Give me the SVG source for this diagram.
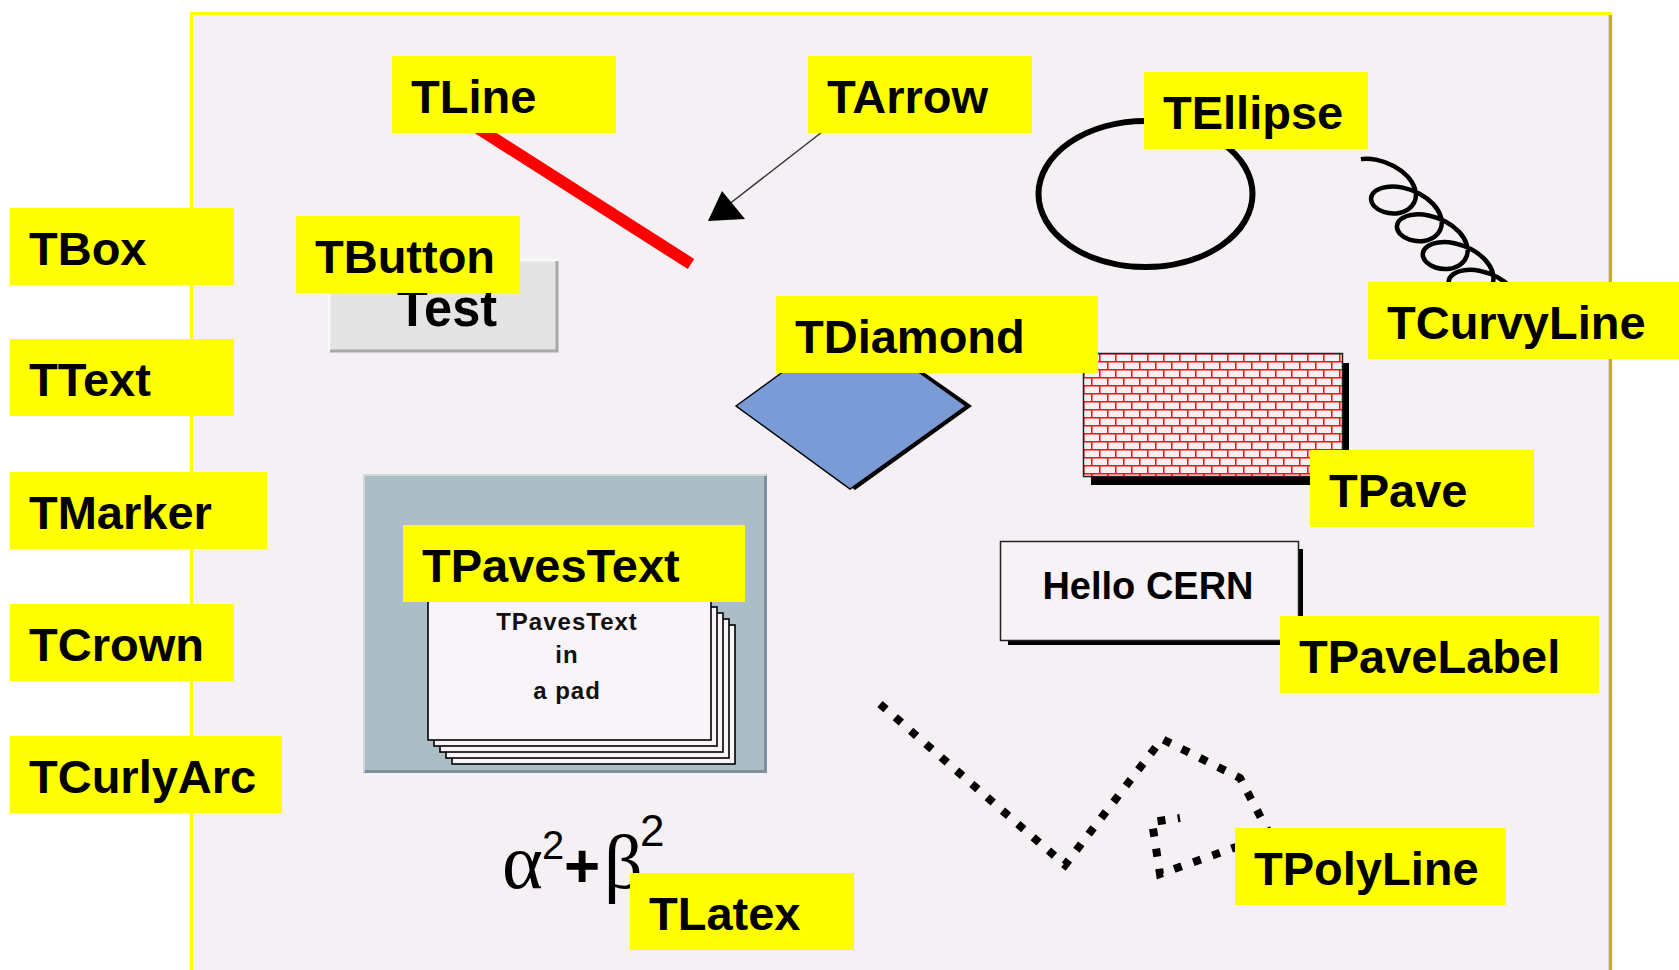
<svg xmlns="http://www.w3.org/2000/svg" width="1679" height="970" viewBox="0 0 1679 970">
<style>
.lbl{fill:#ffff00}
.lt{font-family:"Liberation Sans",Arial,sans-serif;font-weight:bold;font-size:47px;fill:#000}
.in{font-family:"Liberation Sans",Arial,sans-serif;font-weight:bold;font-size:24px;fill:#111;letter-spacing:1px;text-anchor:middle}
</style>
<defs>
<pattern id="brick" patternUnits="userSpaceOnUse" x="1083" y="353" width="16" height="16">
<rect width="16" height="16" fill="#f6eff4"/>
<path d="M0 0.75H16M0 8.75H16M0.75 0V8M8.75 8V16" stroke="#ff1010" stroke-width="1.6" fill="none"/>
</pattern>
</defs>
<rect width="1679" height="970" fill="#ffffff"/>
<g id="frame">
<rect x="190" y="12" width="1422" height="960" fill="#f4f0f4"/>
<line x1="190" y1="13.5" x2="1612" y2="13.5" stroke="#ffff00" stroke-width="3"/>
<line x1="191.5" y1="12" x2="191.5" y2="970" stroke="#ffff00" stroke-width="3"/>
<line x1="1610.5" y1="15" x2="1610.5" y2="970" stroke="#c4b400" stroke-width="3"/>
<line x1="1608.5" y1="15" x2="1608.5" y2="970" stroke="#dcd8cc" stroke-width="1"/>
</g>
<g id="tline-shape">
<line x1="470" y1="123" x2="691" y2="264" stroke="#ff0000" stroke-width="12"/>
</g>
<g id="connectors">
<line x1="822" y1="132" x2="728" y2="205" stroke="#333" stroke-width="1.5"/>
<polygon points="708,221 722,191 745,219" fill="#000"/>
</g>
<g id="tellipse-shape">
<ellipse cx="1145.5" cy="194" rx="107" ry="73" fill="none" stroke="#000" stroke-width="6"/>
</g>
<g id="tcurvyline-shape">
<path transform="matrix(0.68 0.73 -0.92 0.32 1397.3 198.2)" vector-effect="non-scaling-stroke" fill="none" stroke="#000" stroke-width="4.5" d="M-53.51 0 c1.06 -4.36 3.28 -8.72 6.52 -12.5 c3.24 -3.78 7.49 -6.97 12.32 -9.15 c4.83 -2.18 10.25 -3.35 15.67 -3.35 c5.42 0 10.84 1.17 15.67 3.35 c4.83 2.18 9.08 5.37 12.32 9.15 c3.24 3.78 5.46 8.14 6.52 12.5 c1.06 4.36 0.95 8.72 -0.18 12.5 c-1.13 3.78 -3.26 6.97 -5.98 9.15 c-2.72 2.18 -6.02 3.35 -9.33 3.35 c-3.31 0 -6.61 -1.17 -9.33 -3.35 c-2.72 -2.18 -4.85 -5.37 -5.98 -9.15 c-1.13 -3.78 -1.24 -8.14 -0.18 -12.5 c1.06 -4.36 3.28 -8.72 6.52 -12.5 c3.24 -3.78 7.49 -6.97 12.32 -9.15 c4.83 -2.18 10.25 -3.35 15.67 -3.35 c5.42 0 10.84 1.17 15.67 3.35 c4.83 2.18 9.08 5.37 12.32 9.15 c3.24 3.78 5.46 8.14 6.52 12.5 c1.06 4.36 0.95 8.72 -0.18 12.5 c-1.13 3.78 -3.26 6.97 -5.98 9.15 c-2.72 2.18 -6.02 3.35 -9.33 3.35 c-3.31 0 -6.61 -1.17 -9.33 -3.35 c-2.72 -2.18 -4.85 -5.37 -5.98 -9.15 c-1.13 -3.78 -1.24 -8.14 -0.18 -12.5 c1.06 -4.36 3.28 -8.72 6.52 -12.5 c3.24 -3.78 7.49 -6.97 12.32 -9.15 c4.83 -2.18 10.25 -3.35 15.67 -3.35 c5.42 0 10.84 1.17 15.67 3.35 c4.83 2.18 9.08 5.37 12.32 9.15 c3.24 3.78 5.46 8.14 6.52 12.5 c1.06 4.36 0.95 8.72 -0.18 12.5 c-1.13 3.78 -3.26 6.97 -5.98 9.15 c-2.72 2.18 -6.02 3.35 -9.33 3.35 c-3.31 0 -6.61 -1.17 -9.33 -3.35 c-2.72 -2.18 -4.85 -5.37 -5.98 -9.15 c-1.13 -3.78 -1.24 -8.14 -0.18 -12.5 c1.06 -4.36 3.28 -8.72 6.52 -12.5 c3.24 -3.78 7.49 -6.97 12.32 -9.15 c4.83 -2.18 10.25 -3.35 15.67 -3.35 c5.42 0 10.84 1.17 15.67 3.35 c4.83 2.18 9.08 5.37 12.32 9.15 c3.24 3.78 5.46 8.14 6.52 12.5 c1.06 4.36 0.95 8.72 -0.18 12.5 c-1.13 3.78 -3.26 6.97 -5.98 9.15 c-2.72 2.18 -6.02 3.35 -9.33 3.35 c-3.31 0 -6.61 -1.17 -9.33 -3.35 c-2.72 -2.18 -4.85 -5.37 -5.98 -9.15 c-1.13 -3.78 -1.24 -8.14 -0.18 -12.5 c1.06 -4.36 3.28 -8.72 6.52 -12.5 c3.24 -3.78 7.49 -6.97 12.32 -9.15 c4.83 -2.18 10.25 -3.35 15.67 -3.35"/>
</g>
<g id="tbutton-shape">
<rect x="329" y="260" width="229" height="92" fill="#e4e4e4"/>
<path d="M329 352V260H558" fill="none" stroke="#f8f8f8" stroke-width="3"/>
<path d="M330 351H557V261" fill="none" stroke="#a8a8a8" stroke-width="3"/>
<text x="397" y="326" font-family="Liberation Sans, Arial, sans-serif" font-weight="bold" font-size="53" textLength="100" lengthAdjust="spacingAndGlyphs" fill="#000">Test</text>
</g>
<g id="tdiamond-shape">
<polygon points="741,406 855,324 972,406 855,490" fill="#000"/>
<polygon points="736,406 850,323 966,406 850,489" fill="#7b9bd6" stroke="#000" stroke-width="1.5"/>
</g>
<g id="tpave-shape">
<rect x="1091" y="363" width="258" height="122" fill="#000"/>
<rect x="1083.5" y="353.5" width="259" height="123" fill="url(#brick)" stroke="#222" stroke-width="1.5"/>
</g>
<g id="tpavestext-shape">
<rect x="363" y="474" width="404" height="299" fill="#abbdc5"/>
<path d="M364 772V475H766" fill="none" stroke="#d0d8dc" stroke-width="2"/>
<path d="M365 771.5H765.5V476" fill="none" stroke="#7c90a0" stroke-width="3"/>
<g fill="#f8f4f8" stroke="#000" stroke-width="1.6">
<rect x="452" y="625" width="283" height="139"/>
<rect x="446" y="619" width="283" height="139"/>
<rect x="440" y="613" width="283" height="139"/>
<rect x="434" y="607" width="283" height="139"/>
<rect x="428" y="601" width="283" height="139"/>
</g>
<text class="in" x="567" y="630">TPavesText</text>
<text class="in" x="567" y="663">in</text>
<text class="in" x="567" y="699">a pad</text>
</g>
<g id="tpavelabel-shape">
<rect x="1008" y="549" width="295" height="96" fill="#000"/>
<rect x="1000.5" y="541.5" width="298" height="99" fill="#f6f2f6" stroke="#222" stroke-width="1.5"/>
<text x="1148" y="599" text-anchor="middle" font-family="Liberation Sans, Arial, sans-serif" font-weight="bold" font-size="38" fill="#000">Hello CERN</text>
</g>
<g id="tpolyline-shape">
<polyline points="880,704 1065,865 1162,739 1240,778 1270,835 1160,874 1152,822 1180,818" fill="none" stroke="#000" stroke-width="8" stroke-dasharray="8 12.3"/>
</g>
<g id="tlatex-shape" fill="#000">
<text x="502" y="888" font-family="Liberation Serif, serif" font-size="78">α</text>
<text x="542" y="859" font-family="Liberation Sans, Arial, sans-serif" font-size="40">2</text>
<text x="564" y="887" font-family="Liberation Sans, Arial, sans-serif" font-weight="bold" font-size="62">+</text>
<text x="604" y="888" font-family="Liberation Serif, serif" font-size="76">β</text>
<text x="640" y="846" font-family="Liberation Sans, Arial, sans-serif" font-size="44">2</text>
</g>
<g id="label-tline"><rect class="lbl" x="392" y="56" width="224" height="77"/><text class="lt" x="411" y="113">TLine</text></g>
<g id="label-tarrow"><rect class="lbl" x="808" y="56" width="224" height="77"/><text class="lt" x="827" y="113">TArrow</text></g>
<g id="label-tellipse"><rect class="lbl" x="1144" y="72" width="224" height="77"/><text class="lt" x="1163" y="129">TEllipse</text></g>
<g id="label-tbox"><rect class="lbl" x="10" y="208" width="224" height="77"/><text class="lt" x="29" y="265">TBox</text></g>
<g id="label-tbutton"><rect class="lbl" x="296" y="216" width="224" height="77"/><text class="lt" x="315" y="273">TButton</text></g>
<g id="label-ttext"><rect class="lbl" x="10" y="339" width="224" height="77"/><text class="lt" x="29" y="396">TText</text></g>
<g id="label-tdiamond"><rect class="lbl" x="776" y="296" width="322" height="77"/><text class="lt" x="795" y="353">TDiamond</text></g>
<g id="label-tcurvyline"><rect class="lbl" x="1368" y="282" width="311" height="77"/><text class="lt" x="1387" y="339">TCurvyLine</text></g>
<g id="label-tmarker"><rect class="lbl" x="10" y="472" width="257" height="77"/><text class="lt" x="29" y="529">TMarker</text></g>
<g id="label-tpave"><rect class="lbl" x="1310" y="450" width="224" height="77"/><text class="lt" x="1329" y="507">TPave</text></g>
<g id="label-tpavestext"><rect class="lbl" x="403" y="525" width="342" height="77"/><text class="lt" x="422" y="582">TPavesText</text></g>
<g id="label-tcrown"><rect class="lbl" x="10" y="604" width="224" height="77"/><text class="lt" x="29" y="661">TCrown</text></g>
<g id="label-tpavelabel"><rect class="lbl" x="1280" y="616" width="319" height="77"/><text class="lt" x="1299" y="673">TPaveLabel</text></g>
<g id="label-tcurlyarc"><rect class="lbl" x="10" y="736" width="272" height="77"/><text class="lt" x="29" y="793">TCurlyArc</text></g>
<g id="label-tpolyline"><rect class="lbl" x="1235" y="828" width="271" height="77"/><text class="lt" x="1254" y="885">TPolyLine</text></g>
<g id="label-tlatex"><rect class="lbl" x="630" y="873" width="224" height="77"/><text class="lt" x="649" y="930">TLatex</text></g>
</svg>
